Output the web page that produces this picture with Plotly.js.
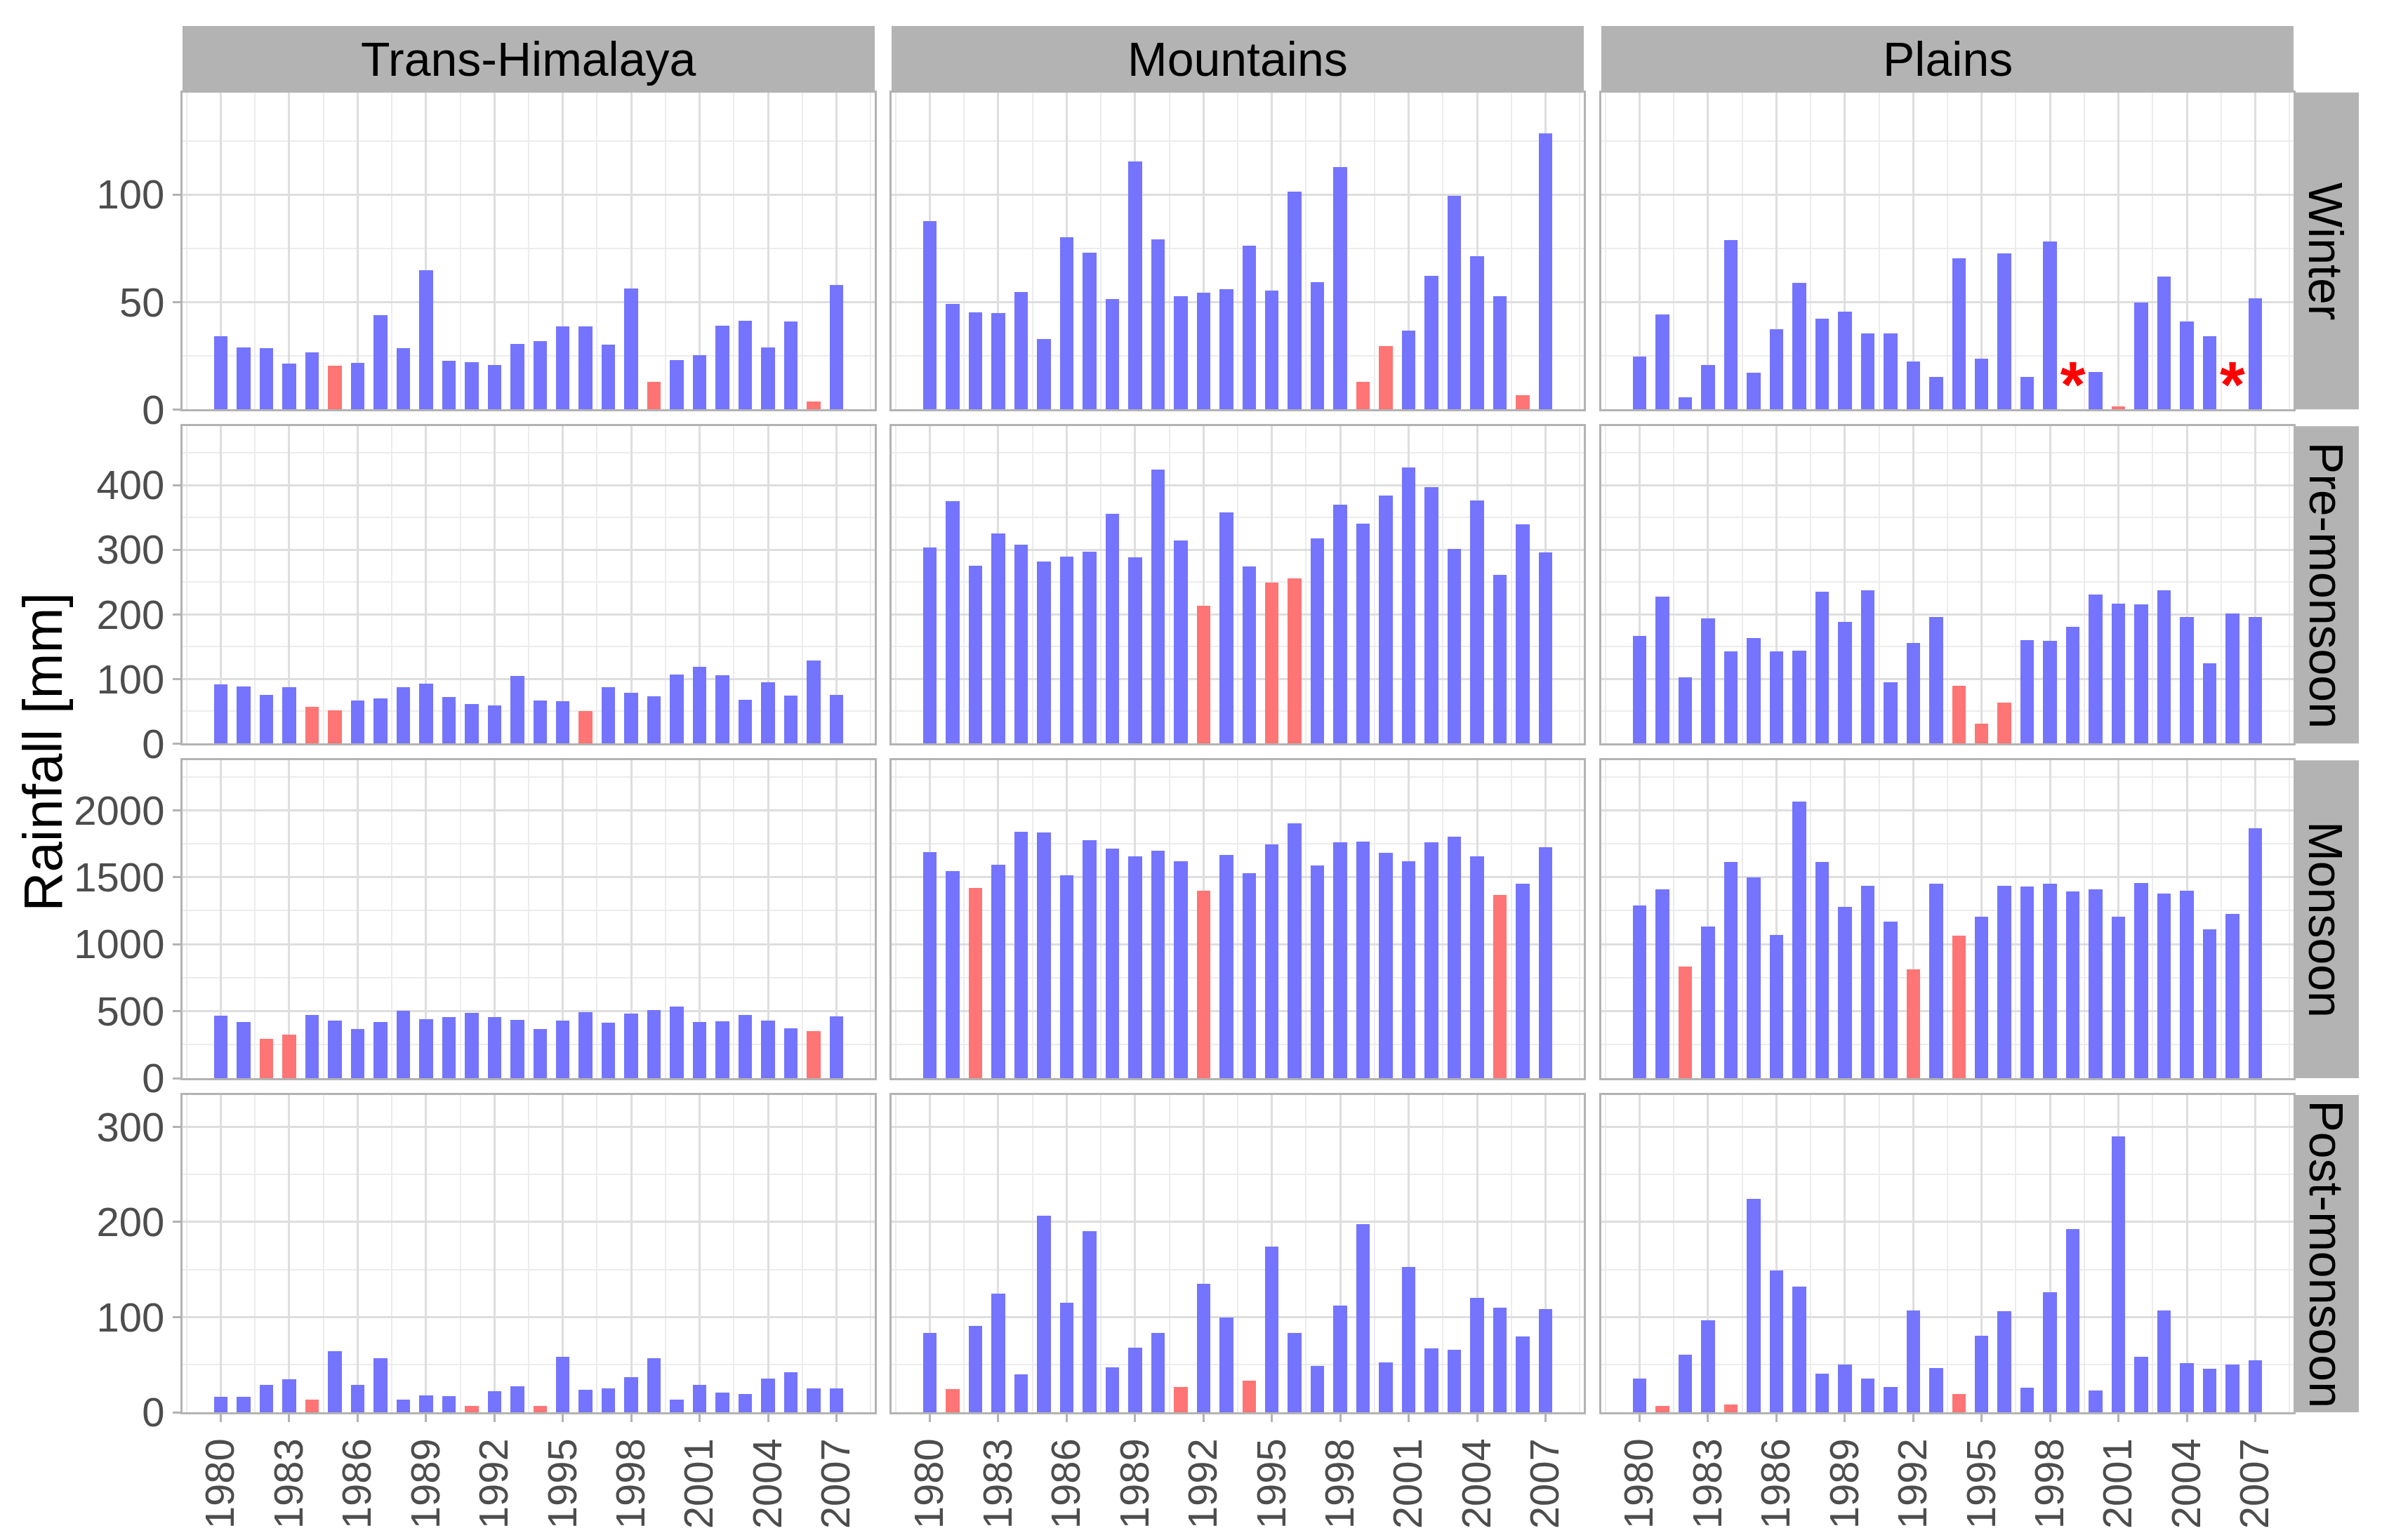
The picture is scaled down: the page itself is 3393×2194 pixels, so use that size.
<!DOCTYPE html>
<html>
<head>
<meta charset="utf-8">
<script src="https://cdn.plot.ly/plotly-3.0.1.min.js"></script>
<style>
  html, body { margin: 0; padding: 0; background: #ffffff; }
  #chart { width: 3393px; height: 2194px; }
</style>
</head>
<body>
<div id="chart"></div>
<script>
// ---------------- DATA ----------------
const years = [1980,1981,1982,1983,1984,1985,1986,1987,1988,1989,1990,1991,1992,1993,
               1994,1995,1996,1997,1998,1999,2000,2001,2002,2003,2004,2005,2006,2007];

const regions = ["Trans-Himalaya", "Mountains", "Plains"];
const seasons = ["Winter", "Pre-monsoon", "Monsoon", "Post-monsoon"];

// Winter rainfall [mm]
const winterTransHimalaya = [34.0,28.7,28.4,21.4,26.7,20.5,21.8,43.7,28.4,64.9,22.5,22.0,20.8,30.4,31.7,38.6,38.6,30.2,56.3,13.0,22.8,25.3,39.1,41.2,28.7,41.0,3.8,57.9];
const winterMountains     = [87.5,49.1,45.3,44.9,54.6,32.6,80.2,73.0,51.4,115.4,79.1,52.6,54.3,56.0,76.1,55.2,101.3,59.1,112.9,13.0,29.6,36.6,62.2,99.5,71.2,52.8,6.7,128.6];
const winterPlains        = [24.7,44.1,5.5,20.8,78.7,17.0,37.2,59.0,42.1,45.4,35.4,35.4,22.3,15.1,70.4,23.7,72.6,15.0,78.2,null,17.4,1.4,49.6,61.7,40.8,34.0,null,51.6];

// Pre-monsoon rainfall [mm]
const preTransHimalaya = [91.1,87.9,75.2,87.2,56.4,51.4,66.2,69.8,87.2,92.6,72.3,61.1,58.6,104.5,66.2,65.5,50.6,87.2,78.1,73.1,107.1,119.0,105.2,67.6,94.4,73.8,128.8,74.9];
const preMountains     = [303.8,375.4,274.9,325.5,307.8,281.4,289.7,296.9,355.9,288.2,424.2,313.9,213.0,357.3,274.5,249.2,255.7,317.5,369.6,340.7,383.7,427.5,396.7,301.3,376.1,261.1,338.9,295.8];
const prePlains        = [166.0,227.8,102.0,193.5,142.9,163.1,142.9,143.6,234.7,188.1,237.3,94.4,156.2,196.0,89.0,30.7,62.9,159.5,158.4,180.5,230.4,216.6,215.6,237.6,196.0,123.7,201.8,196.0];

// Monsoon rainfall [mm]
const monTransHimalaya = [464,417,291,325,473,431,365,417,503,440,457,487,454,435,368,428,494,412,483,508,536,417,422,473,428,372,351,459];
const monMountains     = [1689,1545,1422,1592,1839,1832,1515,1777,1714,1654,1698,1618,1401,1668,1532,1745,1902,1588,1759,1768,1684,1620,1763,1801,1654,1368,1450,1723];
const monPlains        = [1291,1407,834,1134,1614,1501,1068,2066,1614,1281,1435,1166,812,1454,1066,1206,1435,1429,1450,1396,1408,1206,1455,1377,1401,1113,1227,1864];

// Post-monsoon rainfall [mm]
const postTransHimalaya = [16.2,16.2,28.6,34.9,13.5,64.1,28.6,56.5,13.5,17.4,17.1,6.3,22.3,27.4,6.3,58.6,23.5,25.3,36.7,56.5,13.5,28.9,20.8,18.9,35.5,42.1,25.3,25.3];
const postMountains     = [83.6,24.1,90.8,124.5,39.7,206.3,115.2,190.7,46.9,68.0,83.3,26.5,135.0,99.8,33.1,174.4,83.6,48.7,112.5,197.9,52.3,152.8,67.1,65.6,120.3,110.1,79.4,108.3];
const postPlains        = [35.2,6.3,60.2,96.8,8.4,224.1,149.2,132.3,40.6,50.5,35.2,26.5,106.8,46.3,19.5,80.3,106.5,25.6,126.0,192.8,22.9,289.9,58.0,106.8,51.4,45.4,49.9,54.7];

// Highlighted (red) years per panel
const redWinterTransHimalaya = [1985,1999,2006];
const redWinterMountains     = [1999,2000,2006];
const redWinterPlains        = [2001];
const redPreTransHimalaya    = [1984,1985,1996];
const redPreMountains        = [1992,1995,1996];
const redPrePlains           = [1994,1995,1996];
const redMonTransHimalaya    = [1982,1983,2006];
const redMonMountains        = [1982,1992,2005];
const redMonPlains           = [1982,1992,1994];
const redPostTransHimalaya   = [1984,1991,1994];
const redPostMountains       = [1981,1991,1994];
const redPostPlains          = [1981,1984,1994];

// Missing-data markers (Winter, Plains)
const starYears = [1999, 2006];
const starLevel = [8.5, 8.5];

const xTickVals = [1980,1983,1986,1989,1992,1995,1998,2001,2004,2007];

// ---------------- STRUCTURE ----------------
const panelValues = [
  [winterTransHimalaya, winterMountains, winterPlains],
  [preTransHimalaya, preMountains, prePlains],
  [monTransHimalaya, monMountains, monPlains],
  [postTransHimalaya, postMountains, postPlains]
];
const panelRed = [
  [redWinterTransHimalaya, redWinterMountains, redWinterPlains],
  [redPreTransHimalaya, redPreMountains, redPrePlains],
  [redMonTransHimalaya, redMonMountains, redMonPlains],
  [redPostTransHimalaya, redPostMountains, redPostPlains]
];

// ---------------- STYLE / LAYOUT ----------------
const W = 3393, H = 2194;
const colsPx = [[260,1246],[1270,2256],[2281,3267]];
const rowsPx = [[131.7,583.3],[607.3,1059.3],[1083.3,1536],[1560,2012]];
const stripTop = 37;
const stripRight = 3360;

const yRanges = [[0,147.5],[0,491],[0,2372],[0,333.5]];
const yMajor  = [50, 100, 500, 100];
const xRange  = [1978.32, 2008.68];

const BLUE = "#7474ff", RED = "#ff7474";
const GRID_MAJOR = "#dedede", GRID_MINOR = "#ececec";
const BORDER = "#b3b3b3", STRIP = "#b3b3b3";
const TICKFONT = {family: "Liberation Sans, Arial, sans-serif", size: 58, color: "#4d4d4d"};

const px2x = p => p / W;
const px2y = p => 1 - p / H;

const traces = [];
const layout = {
  width: W, height: H,
  margin: {l:0, r:0, t:0, b:0},
  paper_bgcolor: "#ffffff",
  plot_bgcolor: "#ffffff",
  showlegend: false,
  hovermode: false,
  bargap: 0,
  shapes: [],
  annotations: []
};

for (let r = 0; r < 4; r++) {
  for (let c = 0; c < 3; c++) {
    const k = r * 3 + c + 1;
    const xa = "x" + (k === 1 ? "" : k), ya = "y" + (k === 1 ? "" : k);
    const vals = panelValues[r][c];
    const reds = panelRed[r][c];
    traces.push({
      type: "bar",
      x: years,
      y: vals,
      width: 0.6,
      marker: {color: years.map(yr => reds.includes(yr) ? RED : BLUE), line: {width: 0}},
      xaxis: xa, yaxis: ya
    });
    if (r === 0 && c === 2) {
      traces.push({
        type: "scatter", mode: "text",
        x: starYears, y: starLevel,
        text: starYears.map(() => "*"),
        textposition: "middle center",
        textfont: {family: "Liberation Sans, Arial, sans-serif", size: 92, color: "#ff0000", weight: "bold"},
        xaxis: xa, yaxis: ya, cliponaxis: false
      });
    }
    const bottom = (r === 3), left = (c === 0);
    layout["xaxis" + (k === 1 ? "" : k)] = {
      domain: [px2x(colsPx[c][0]), px2x(colsPx[c][1])],
      anchor: ya,
      range: xRange,
      tickmode: "array",
      tickvals: xTickVals,
      ticktext: xTickVals.map(String),
      showticklabels: bottom,
      ticks: bottom ? "outside" : "",
      ticklen: 11, tickwidth: 3, tickcolor: BORDER,
      tickangle: -90,
      tickfont: TICKFONT,
      showgrid: true, gridcolor: GRID_MAJOR, gridwidth: 3,
      minor: {tick0: 1978.5, dtick: 1.5, showgrid: true, gridcolor: GRID_MINOR, gridwidth: 2, ticks: ""},
      showline: true, mirror: true, linecolor: BORDER, linewidth: 3,
      zeroline: false, fixedrange: true
    };
    layout["yaxis" + (k === 1 ? "" : k)] = {
      domain: [px2y(rowsPx[r][1]), px2y(rowsPx[r][0])],
      anchor: xa,
      range: yRanges[r],
      tick0: 0, dtick: yMajor[r],
      showticklabels: left,
      ticks: left ? "outside" : "",
      ticklen: 11, tickwidth: 3, tickcolor: BORDER,
      tickfont: TICKFONT,
      showgrid: true, gridcolor: GRID_MAJOR, gridwidth: 3,
      minor: {tick0: 0, dtick: yMajor[r] / 2, showgrid: true, gridcolor: GRID_MINOR, gridwidth: 2, ticks: ""},
      showline: true, mirror: true, linecolor: BORDER, linewidth: 3,
      zeroline: false, fixedrange: true
    };
  }
}

// Top strips
for (let c = 0; c < 3; c++) {
  layout.shapes.push({
    type: "rect", xref: "paper", yref: "paper", layer: "below",
    x0: px2x(colsPx[c][0]), x1: px2x(colsPx[c][1]),
    y0: px2y(rowsPx[0][0]), y1: px2y(stripTop),
    fillcolor: STRIP, line: {width: 0}
  });
  layout.annotations.push({
    xref: "paper", yref: "paper",
    x: px2x((colsPx[c][0] + colsPx[c][1]) / 2),
    y: px2y((stripTop + rowsPx[0][0]) / 2),
    text: regions[c], showarrow: false,
    xanchor: "center", yanchor: "middle",
    font: {family: "Liberation Sans, Arial, sans-serif", size: 68, color: "#000000"}
  });
}
// Right strips
for (let r = 0; r < 4; r++) {
  layout.shapes.push({
    type: "rect", xref: "paper", yref: "paper", layer: "below",
    x0: px2x(colsPx[2][1]), x1: px2x(stripRight),
    y0: px2y(rowsPx[r][1]), y1: px2y(rowsPx[r][0]),
    fillcolor: STRIP, line: {width: 0}
  });
  layout.annotations.push({
    xref: "paper", yref: "paper",
    x: px2x((colsPx[2][1] + stripRight) / 2),
    y: px2y((rowsPx[r][0] + rowsPx[r][1]) / 2),
    text: seasons[r], showarrow: false, textangle: 90,
    xanchor: "center", yanchor: "middle",
    font: {family: "Liberation Sans, Arial, sans-serif", size: 68, color: "#000000"}
  });
}
// Y axis title
layout.annotations.push({
  xref: "paper", yref: "paper",
  x: px2x(61), y: px2y((rowsPx[0][0] + rowsPx[3][1]) / 2),
  text: "Rainfall [mm]", showarrow: false, textangle: -90,
  xanchor: "center", yanchor: "middle",
  font: {family: "Liberation Sans, Arial, sans-serif", size: 78, color: "#000000"}
});

Plotly.newPlot("chart", traces, layout, {staticPlot: true, displayModeBar: false});
</script>
</body>
</html>
